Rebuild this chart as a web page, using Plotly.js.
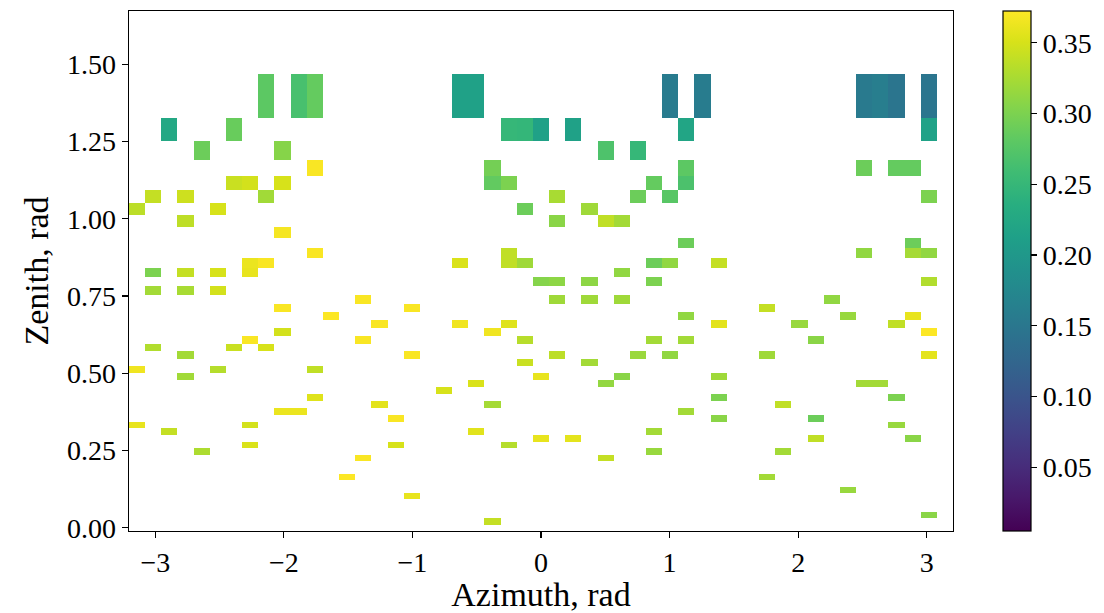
<!DOCTYPE html>
<html>
<head>
<meta charset="utf-8">
<script src="https://cdn.plot.ly/plotly-3.0.1.min.js"></script>
<style>
html, body { margin: 0; padding: 0; background: #ffffff; }
#chart { width: 1104px; height: 613px; }
</style>
</head>
<body>
<div id="chart"></div>
<script>
// Bin centres (azimuth: 51 centres over [-pi, pi]; zenith: arcsin of 50 equal steps of sin)
const azimuthCenters = [
  -3.141593, -3.015929, -2.890265, -2.764602, -2.638938, -2.513274, -2.387610, -2.261947,
  -2.136283, -2.010619, -1.884956, -1.759292, -1.633628, -1.507964, -1.382301, -1.256637,
  -1.130973, -1.005310, -0.879646, -0.753982, -0.628319, -0.502655, -0.376991, -0.251327,
  -0.125664, 0.000000, 0.125664, 0.251327, 0.376991, 0.502655, 0.628319, 0.753982,
  0.879646, 1.005310, 1.130973, 1.256637, 1.382301, 1.507964, 1.633628, 1.759292,
  1.884956, 2.010619, 2.136283, 2.261947, 2.387610, 2.513274, 2.638938, 2.764602,
  2.890265, 3.015929, 3.141593
];
const zenithCenters = [
  0.000000, 0.020410, 0.040828, 0.061263, 0.081724, 0.102219, 0.122757, 0.143348,
  0.164000, 0.184722, 0.205525, 0.226419, 0.247414, 0.268521, 0.289751, 0.311118,
  0.332630, 0.354305, 0.376155, 0.398194, 0.420441, 0.442911, 0.465623, 0.488597,
  0.511855, 0.535423, 0.559322, 0.583586, 0.608245, 0.633334, 0.658897, 0.684975,
  0.711620, 0.738892, 0.766858, 0.795602, 0.825215, 0.855809, 0.887522, 0.920523,
  0.955022, 0.991295, 1.029697, 1.070733, 1.115111, 1.163934, 1.219058, 1.284102,
  1.368418, 1.570796
];

// Occupied cells: azimuth bin index, zenith bin index, value
const cellAzimuthIndex = [
  8,10,11,20,21,33,35,45,46,47,49,
  2,6,23,24,25,27,34,49,
  4,9,29,31,
  11,22,34,45,47,48,
  6,7,9,22,23,32,34,
  1,3,8,26,31,33,49,
  0,5,24,28,
  3,26,29,30,
  9,
  34,48,
  11,23,45,48,49,
  7,8,20,23,24,32,33,36,
  1,3,5,7,30,
  25,26,28,32,49,
  1,3,5,
  14,26,28,30,43,
  9,17,39,
  12,34,44,48,
  15,20,23,36,41,47,
  9,22,49,
  7,14,24,32,34,42,
  1,6,8,
  3,17,26,31,33,39,49,
  24,28,
  0,5,11,
  3,25,30,36,
  21,29,45,46,
  19,
  11,36,47,
  15,22,40,
  9,10,34,
  16,36,42,
  0,7,47,
  2,21,32,
  25,27,42,48,
  7,16,23,
  4,32,40,
  14,29,
  13,39,
  44,
  17,
  49,
  22
];
const cellZenithIndex = [
  48,48,48,48,48,48,48,48,48,48,48,
  47,47,47,47,47,47,47,47,
  46,46,46,46,
  45,45,45,45,45,45,
  44,44,44,44,44,44,44,
  43,43,43,43,43,43,43,
  42,42,42,42,
  41,41,41,41,
  40,
  39,39,
  38,38,38,38,38,
  37,37,37,37,37,37,37,37,
  36,36,36,36,36,
  35,35,35,35,35,
  34,34,34,
  33,33,33,33,33,
  32,32,32,
  31,31,31,31,
  30,30,30,30,30,30,
  29,29,29,
  28,28,28,28,28,28,
  27,27,27,
  26,26,26,26,26,26,26,
  25,25,
  24,24,24,
  23,23,23,23,
  22,22,22,22,
  21,
  20,20,20,
  19,19,19,
  18,18,18,
  17,17,17,
  16,16,16,
  15,15,15,
  14,14,14,14,
  13,13,13,
  12,12,12,
  11,11,
  8,8,
  6,
  5,
  2,
  1
];
const cellValue = [
  0.280,0.265,0.285,0.214,0.214,0.157,0.158,0.155,0.160,0.148,0.148,
  0.225,0.288,0.250,0.248,0.214,0.214,0.220,0.215,
  0.290,0.306,0.270,0.250,
  0.370,0.295,0.280,0.290,0.285,0.285,
  0.343,0.348,0.350,0.284,0.300,0.285,0.268,
  0.340,0.345,0.321,0.325,0.290,0.277,0.300,
  0.336,0.350,0.290,0.320,
  0.337,0.308,0.338,0.322,
  0.368,
  0.290,0.290,
  0.370,0.338,0.312,0.323,0.312,
  0.362,0.370,0.352,0.338,0.320,0.290,0.312,0.340,
  0.300,0.340,0.350,0.360,0.312,
  0.305,0.310,0.310,0.300,0.330,
  0.322,0.325,0.348,
  0.370,0.320,0.320,0.320,0.312,
  0.370,0.370,0.340,
  0.372,0.312,0.316,0.360,
  0.370,0.365,0.355,0.357,0.316,0.338,
  0.348,0.365,0.372,
  0.370,0.370,0.333,0.322,0.322,0.308,
  0.330,0.343,0.350,
  0.322,0.370,0.336,0.317,0.312,0.320,0.358,
  0.343,0.322,
  0.365,0.332,0.338,
  0.321,0.360,0.308,0.320,
  0.352,0.313,0.322,0.322,
  0.350,
  0.355,0.300,0.300,
  0.357,0.323,0.338,
  0.362,0.362,0.322,
  0.370,0.308,0.290,
  0.360,0.348,0.316,
  0.340,0.356,0.322,
  0.360,0.358,0.338,0.308,
  0.352,0.350,0.332,
  0.328,0.316,0.322,
  0.370,0.340,
  0.372,0.322,
  0.316,
  0.360,
  0.308,
  0.340
];

const xTickValues = [-3, -2, -1, 0, 1, 2, 3];
const xTickLabels = ['\u22123', '\u22122', '\u22121', '0', '1', '2', '3'];
const yTickValues = [0, 0.25, 0.5, 0.75, 1.0, 1.25, 1.5];
const colorbarTickValues = [0.05, 0.10, 0.15, 0.20, 0.25, 0.30, 0.35];

// Build the grid (rows = zenith bins, columns = azimuth bins)
const z = zenithCenters.map(() => azimuthCenters.map(() => null));
for (let i = 0; i < cellValue.length; i++) {
  z[cellZenithIndex[i]][cellAzimuthIndex[i]] = cellValue[i];
}

const FONT = 'Liberation Serif, Times New Roman, serif';

const trace = {
  type: 'heatmap',
  x: azimuthCenters,
  y: zenithCenters,
  z: z,
  colorscale: 'Viridis',
  zmin: 0.005,
  zmax: 0.3724,
  zsmooth: false,
  hoverongaps: false,
  colorbar: {
    x: 1.0605,
    xanchor: 'left',
    xpad: 0,
    ypad: 0,
    y: 0.5,
    yanchor: 'middle',
    len: 1,
    lenmode: 'fraction',
    thickness: 28,
    thicknessmode: 'pixels',
    outlinecolor: '#000000',
    outlinewidth: 1.2,
    ticks: 'outside',
    ticklen: 6,
    tickwidth: 1.2,
    tickcolor: '#000000',
    tickvals: colorbarTickValues,
    tickformat: '.2f',
    tickfont: { family: FONT, size: 28, color: '#000000' }
  }
};

const layout = {
  width: 1104,
  height: 613,
  margin: { l: 129, r: 149, t: 11, b: 82 },
  paper_bgcolor: '#ffffff',
  plot_bgcolor: '#ffffff',
  font: { family: FONT, size: 28, color: '#000000' },
  xaxis: {
    range: [-3.2044, 3.2044],
    tickvals: xTickValues,
    ticktext: xTickLabels,
    ticks: 'outside',
    ticklen: 6,
    tickwidth: 1.2,
    tickcolor: '#000000',
    showline: true,
    linecolor: '#000000',
    linewidth: 1.3,
    mirror: true,
    showgrid: false,
    zeroline: false,
    automargin: false,
    tickfont: { family: FONT, size: 28, color: '#000000' },
    title: { text: 'Azimuth, rad', font: { family: FONT, size: 34, color: '#000000' }, standoff: 6 }
  },
  yaxis: {
    range: [-0.0102, 1.6720],
    tickvals: yTickValues,
    tickformat: '.2f',
    ticks: 'outside',
    ticklen: 6,
    tickwidth: 1.2,
    tickcolor: '#000000',
    showline: true,
    linecolor: '#000000',
    linewidth: 1.3,
    mirror: true,
    showgrid: false,
    zeroline: false,
    automargin: false,
    tickfont: { family: FONT, size: 28, color: '#000000' },
    title: { text: 'Zenith, rad', font: { family: FONT, size: 34, color: '#000000' }, standoff: 8 }
  }
};

Plotly.newPlot('chart', [trace], layout, { displayModeBar: false, staticPlot: true });
</script>
</body>
</html>
